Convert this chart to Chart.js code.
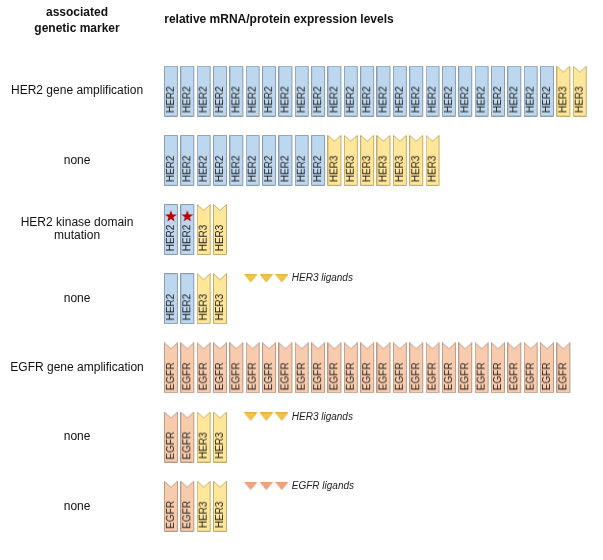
<!DOCTYPE html>
<html><head><meta charset="utf-8">
<script src="https://cdn.jsdelivr.net/npm/chart.js@4"></script>
<style>html,body{margin:0;padding:0;background:#fff}#wrap{width:603px;height:560px}</style>
</head><body><div id="wrap"><canvas id="c" width="603" height="560"></canvas></div>
<script>
// ---- data ----
const rowLabels = [['HER2 gene amplification'], ['none'], ['HER2 kinase domain', 'mutation'], ['none'], ['EGFR gene amplification'], ['none'], ['none']];
const egfrCounts = [0, 0, 0, 0, 25, 2, 2];
const her2Counts = [24, 10, 0, 2, 0, 0, 0];
const her2MutantCounts = [0, 0, 2, 0, 0, 0, 0];
const her3Counts = [2, 7, 2, 2, 0, 2, 2];
const her3LigandCounts = [0, 0, 0, 3, 0, 3, 0];
const egfrLigandCounts = [0, 0, 0, 0, 0, 0, 3];
const markerHeader = ['associated', 'genetic marker'];
const levelsHeader = 'relative mRNA/protein expression levels';
const her3LigandLabel = 'HER3 ligands';
const egfrLigandLabel = 'EGFR ligands';

// ---- styling constants ----
const FONT = '"Liberation Sans", Arial, Helvetica, sans-serif';
const LIG_X0 = 4.85, LIG_STEP = 0.95, LIG_DY = -0.29;

function receptorIcon(label, fill, stroke, notch, star) {
  const w = 15, h = 51;
  const c = document.createElement('canvas');
  c.width = w; c.height = h;
  const g = c.getContext('2d');
  g.beginPath();
  g.moveTo(0.5, 0.5);
  if (notch) { g.lineTo(7, 6.5); }
  g.lineTo(13.5, 0.5);
  g.lineTo(13.5, 50.5);
  g.lineTo(0.5, 50.5);
  g.closePath();
  g.fillStyle = fill; g.fill();
  g.strokeStyle = stroke; g.lineWidth = 1; g.stroke();
  g.save();
  g.translate(7.5, 34);
  g.rotate(-Math.PI / 2);
  g.font = '10px ' + FONT;
  g.fillStyle = '#1a1a1a';
  g.textAlign = 'center';
  g.textBaseline = 'middle';
  g.fillText(label, 0, 0);
  g.restore();
  if (star) {
    const cx = 7, cy = 12.5, R = 6.2, r = 2.6;
    g.beginPath();
    for (let i = 0; i < 10; i++) {
      const a = -Math.PI / 2 + i * Math.PI / 5;
      const rr = i % 2 === 0 ? R : r;
      const px = cx + rr * Math.cos(a), py = cy + rr * Math.sin(a);
      if (i === 0) g.moveTo(px, py); else g.lineTo(px, py);
    }
    g.closePath();
    g.fillStyle = '#c00000'; g.fill();
  }
  return c;
}
function ligandIcon(fill, stroke) {
  const c = document.createElement('canvas');
  c.width = 13; c.height = 9;
  const g = c.getContext('2d');
  g.beginPath();
  g.moveTo(0.5, 0.5); g.lineTo(12.5, 0.5); g.lineTo(6.5, 7.8); g.closePath();
  g.fillStyle = fill; g.fill();
  g.strokeStyle = stroke; g.lineWidth = 0.8; g.stroke();
  return c;
}

const icons = {
  EGFR: receptorIcon('EGFR', '#f8cbad', '#b89a88', true, false),
  HER2: receptorIcon('HER2', '#bdd7ee', '#8a9cb0', false, false),
  HER2m: receptorIcon('HER2', '#bdd7ee', '#8a9cb0', false, true),
  HER3: receptorIcon('HER3', '#ffe699', '#c4ac6a', true, false),
  L3: ligandIcon('#f6c443', '#d9a92c'),
  LE: ligandIcon('#f2a677', '#d98c5e')
};

// build receptor points per row, in drawing order
const order = [['EGFR', egfrCounts], ['HER2', her2Counts], ['HER2m', her2MutantCounts], ['HER3', her3Counts]];
const pts = {EGFR: [], HER2: [], HER2m: [], HER3: []};
rowLabels.forEach((_, r) => {
  let pos = 0;
  order.forEach(([key, counts]) => {
    for (let k = 0; k < counts[r]; k++) pts[key].push({x: pos++, y: r});
  });
});
function ligandPoints(counts) {
  const out = [];
  counts.forEach((n, r) => { for (let k = 0; k < n; k++) out.push({x: LIG_X0 + k * LIG_STEP, y: r + LIG_DY}); });
  return out;
}

function ds(label, data, icon) {
  return {label, data, pointStyle: icon, pointRadius: 3, pointHoverRadius: 3, clip: false, showLine: false};
}

const headerPlugin = {
  id: 'headers',
  afterDraw(chart) {
    const ctx = chart.ctx;
    ctx.save();
    ctx.fillStyle = '#111';
    ctx.font = 'bold 12px ' + FONT;
    ctx.textBaseline = 'middle';
    ctx.textAlign = 'center';
    ctx.fillText(markerHeader[0], 77, 13);
    ctx.fillText(markerHeader[1], 77, 29);
    ctx.textAlign = 'left';
    ctx.fillText(levelsHeader, chart.chartArea.left + 1, 20);
    // ligand captions
    const xs = chart.scales.x, ys = chart.scales.y;
    ctx.font = 'italic 10px ' + FONT;
    ctx.fillStyle = '#222';
    const cap = (counts, text) => counts.forEach((n, r) => {
      if (!n) return;
      const x = xs.getPixelForValue(LIG_X0 + (n - 1) * LIG_STEP) + 10;
      ctx.fillText(text, x, ys.getPixelForValue(r + LIG_DY));
    });
    cap(her3LigandCounts, her3LigandLabel);
    cap(egfrLigandCounts, egfrLigandLabel);
    ctx.restore();
  }
};

new Chart(document.getElementById('c'), {
  type: 'scatter',
  data: {
    datasets: [
      ds('EGFR', pts.EGFR, icons.EGFR),
      ds('HER2', pts.HER2, icons.HER2),
      ds('HER2 mutant', pts.HER2m, icons.HER2m),
      ds('HER3', pts.HER3, icons.HER3),
      ds('HER3 ligands', ligandPoints(her3LigandCounts), icons.L3),
      ds('EGFR ligands', ligandPoints(egfrLigandCounts), icons.LE)
    ]
  },
  options: {
    responsive: false,
    animation: false,
    devicePixelRatio: 1,
    events: [],
    layout: {padding: {left: 0, top: 56.5, right: 0.025, bottom: 6.7}},
    plugins: {legend: {display: false}, tooltip: {enabled: false}, title: {display: false}},
    scales: {
      x: {type: 'linear', min: -0.5, max: 26.15, display: false},
      y: {
        type: 'linear', reverse: true, min: -0.5, max: 6.4,
        grid: {display: false, drawTicks: false},
        border: {display: false},
        afterBuildTicks: (s) => { s.ticks = rowLabels.map((_, i) => ({value: i})); },
        afterFit: (s) => { s.width = 163.25; },
        ticks: {
          callback: (v) => rowLabels[v] || '',
          font: {family: FONT, size: 12, lineHeight: 1.1},
          color: '#111',
          crossAlign: 'center',
          padding: 19.5
        }
      }
    }
  },
  plugins: [headerPlugin]
});
</script>
</body></html>
